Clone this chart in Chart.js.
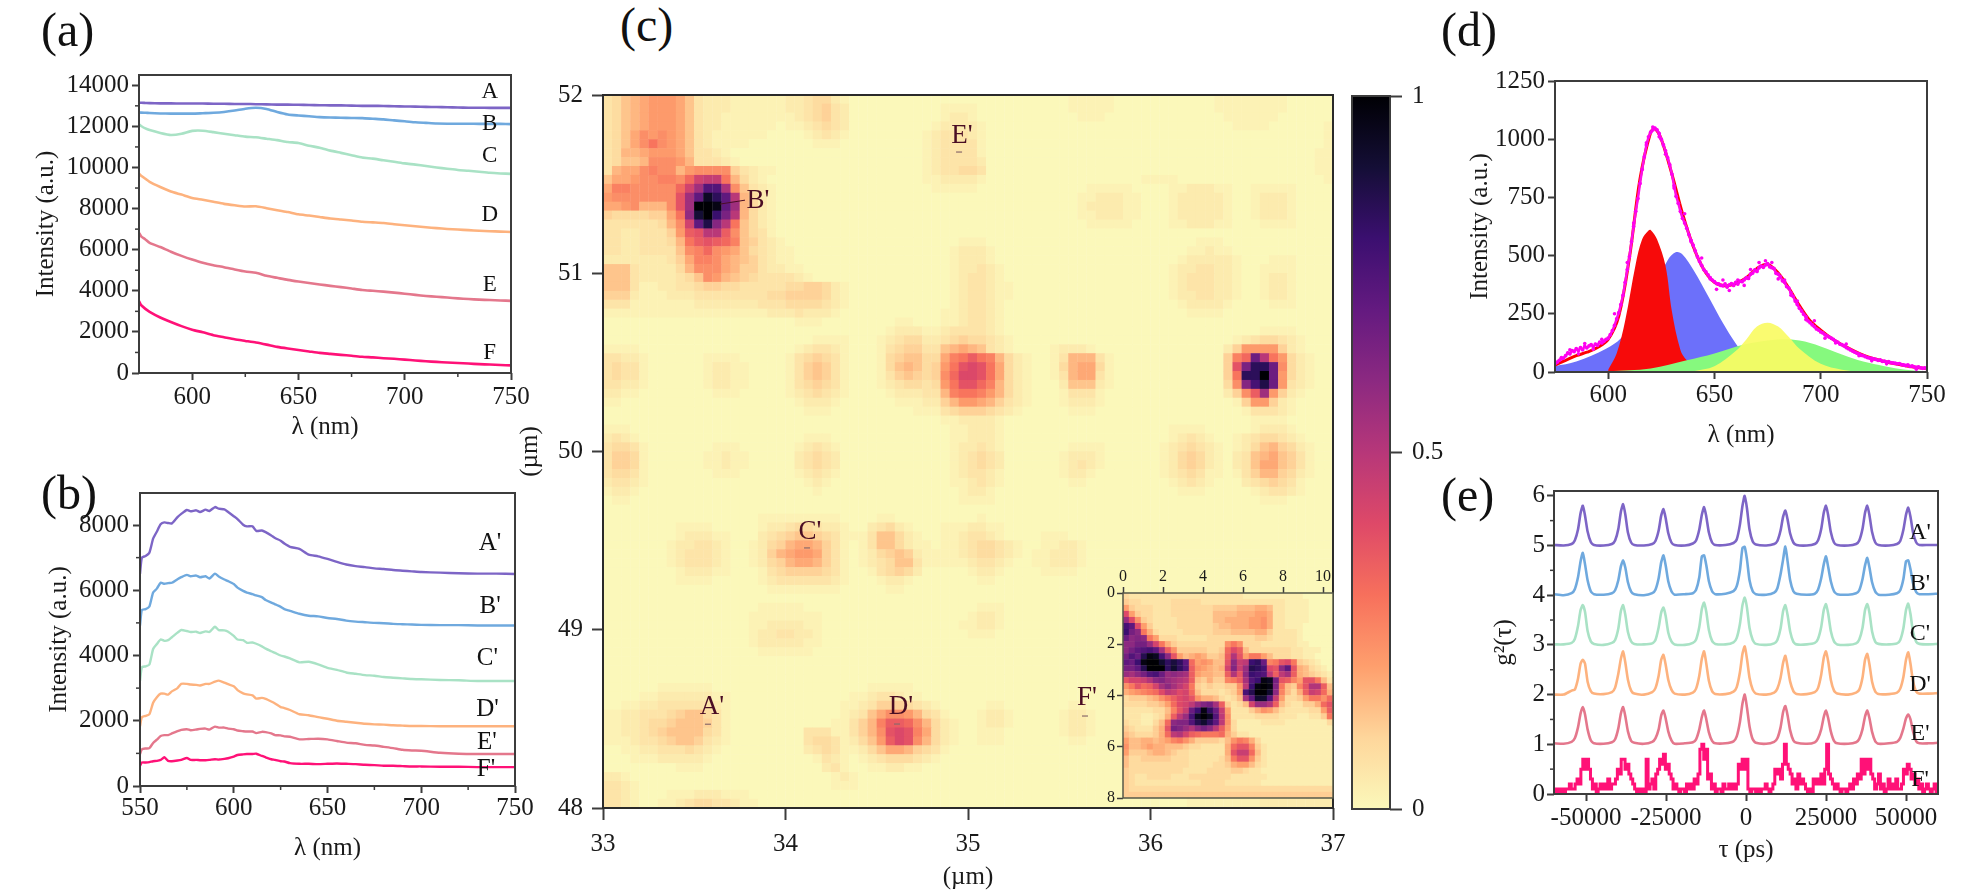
<!DOCTYPE html>
<html>
<head>
  <title>Spectra, PL map and g2</title>
  <script src="https://cdn.jsdelivr.net/npm/chart.js"></script>
  <style>
    html, body { margin: 0; background: #fff; width: 1986px; height: 896px; overflow: hidden; }
    canvas { position: absolute; filter: blur(0.5px); }
    .letter { position: absolute; font: 48px "Liberation Serif", serif; color: #111; line-height: 1; z-index: 5; }
  </style>
</head>
<body>
  <div class="letter" style="left:41px;top:6px">(a)</div>
  <div class="letter" style="left:41px;top:469px">(b)</div>
  <div class="letter" style="left:620px;top:1px">(c)</div>
  <div class="letter" style="left:1441px;top:6px">(d)</div>
  <div class="letter" style="left:1441px;top:471px">(e)</div>

  <canvas id="panelA"></canvas>
  <canvas id="panelB"></canvas>
  <canvas id="panelC"></canvas>
  <canvas id="inset" style="z-index:2"></canvas>
  <canvas id="colorbar"></canvas>
  <canvas id="panelD"></canvas>
  <canvas id="panelE"></canvas>

  <script>
    // panel (a)
    var aLambda = [575,576,578,580,585,590,595,600,605,610,615,620,625,630,635,640,645,650,655,660,665,670,675,680,685,690,695,700,705,710,715,720,725,730,735,740,745,750];
    var aA = [13150,13150,13140,13130,13120,13120,13110,13110,13110,13100,13100,13090,13090,13080,13070,13060,13060,13050,13040,13030,13020,13020,13010,13000,13000,12990,12980,12970,12960,12950,12940,12930,12920,12910,12910,12900,12900,12900];
    var aB = [12680,12670,12660,12650,12630,12620,12620,12620,12640,12660,12700,12770,12860,12910,12850,12700,12580,12530,12490,12450,12430,12420,12410,12400,12370,12340,12290,12250,12200,12170,12140,12130,12130,12130,12120,12120,12120,12110];
    var aC = [12100,12020,11900,11820,11680,11580,11640,11780,11790,11720,11640,11570,11500,11470,11400,11330,11240,11190,11060,10960,10820,10710,10600,10490,10430,10350,10280,10200,10140,10070,10000,9940,9880,9840,9790,9740,9710,9690];
    var aD = [9700,9600,9450,9300,9050,8830,8680,8520,8430,8330,8230,8160,8100,8110,8020,7920,7830,7720,7660,7590,7520,7470,7420,7360,7330,7300,7240,7190,7140,7090,7050,7010,6980,6950,6920,6900,6880,6860];
    var aE = [6820,6650,6500,6330,6130,5900,5700,5520,5360,5240,5150,5040,4940,4880,4730,4630,4530,4450,4380,4310,4240,4180,4110,4040,4000,3960,3910,3860,3800,3750,3710,3670,3630,3600,3570,3550,3530,3510];
    var aF = [3500,3300,3120,2980,2700,2480,2280,2110,1980,1840,1740,1640,1560,1480,1380,1270,1190,1120,1050,980,930,880,840,790,760,720,690,650,610,570,540,510,490,460,430,410,390,370];
    var aNames = ["A","B","C","D","E","F"];
    var aNameX = [740,740,740,740,740,740];
    var aNameY = [13674,12117,10560,7689,4282,973];
    var aTicksX = [600,650,700,750];
    var aMinorX = [625,675,725];
    var aTicksY = [0,2000,4000,6000,8000,10000,12000,14000];
    var aMinorY = [1000,3000,5000,7000,9000,11000,13000];

    // panel (b)
    var bLambda = [550,551,553,555,557,559,561,563,565,567,570,572,575,577,580,582,585,587,590,592,595,597,600,602,605,607,610,612,615,617,620,622,625,627,630,635,640,645,650,655,660,665,670,675,680,685,690,695,700,710,720,730,740,750];
    var bA = [6500,7000,7050,7150,7580,7800,8020,8080,8060,8050,8240,8340,8460,8420,8450,8400,8470,8430,8550,8500,8480,8400,8270,8180,8010,7960,7960,7820,7830,7780,7680,7600,7520,7430,7330,7270,7090,7040,6960,6870,6790,6740,6710,6670,6650,6620,6600,6580,6560,6540,6520,6510,6510,6500];
    var bB = [4920,5400,5420,5500,5930,6050,6230,6200,6220,6230,6340,6400,6470,6430,6450,6400,6430,6360,6510,6420,6330,6280,6190,6080,5980,5930,5880,5840,5790,5700,5620,5570,5490,5420,5370,5280,5220,5200,5150,5120,5070,5040,5020,5000,4990,4970,4960,4950,4940,4930,4930,4920,4920,4920];
    var bC = [3220,3640,3670,3720,4200,4350,4490,4450,4470,4560,4700,4780,4750,4720,4730,4690,4740,4720,4880,4780,4770,4730,4600,4490,4470,4390,4400,4360,4280,4210,4130,4080,4000,3970,3910,3790,3810,3730,3620,3560,3480,3440,3400,3380,3340,3320,3300,3280,3270,3250,3240,3220,3220,3220];
    var bD = [1830,2110,2150,2200,2550,2720,2830,2830,2800,2900,3000,3130,3130,3110,3100,3080,3130,3130,3200,3230,3170,3120,3060,2940,2840,2810,2780,2680,2700,2670,2590,2530,2420,2390,2330,2200,2170,2110,2060,2000,1970,1940,1910,1890,1880,1860,1850,1840,1840,1830,1830,1830,1830,1830];
    var bE = [980,1120,1150,1160,1320,1420,1530,1560,1560,1610,1680,1720,1740,1710,1730,1750,1760,1730,1820,1790,1790,1760,1740,1700,1680,1670,1670,1620,1660,1650,1610,1560,1550,1520,1510,1430,1440,1450,1430,1380,1330,1310,1260,1240,1200,1160,1110,1090,1080,1020,990,980,980,980];
    var bF = [620,720,720,730,760,770,800,880,770,760,780,800,860,800,800,790,790,800,820,810,830,850,900,950,970,980,980,990,920,880,820,800,760,750,700,680,680,670,680,690,680,670,650,640,620,620,610,600,600,590,590,580,580,580];
    var bNames = ["A'","B'","C'","D'","E'","F'"];
    var bNameX = [736.7,736.7,735.3,735.3,735,734.5];
    var bNameY = [7445,5494,3917,2353,1320,512];
    var bTicksX = [550,600,650,700,750];
    var bMinorX = [575,625,675,725];
    var bTicksY = [0,2000,4000,6000,8000];
    var bMinorY = [1000,3000,5000,7000];

    // panel (c): each character is one cell, base 36, 0 lowest and z highest
    var mapRows = [
      "3467899986 3222111111 2234421000 0000000000 0000000000 0111110000 0000000111 1111100000",
      "3467899986 3222111111 2234532000 0000000111 1000000000 0111110000 0000000111 1111100000",
      "3467899986 3221111111 1234532000 0000000122 1000000000 0011100000 0000000011 1111000000",
      "3467899986 3221111110 1123432000 0000001222 2100000000 0000000000 0000000001 1110000001",
      "3468a9a986 3211111100 0012321000 0000012333 2100000000 0000000000 0000000000 0000000001",
      "3468aca986 3211110000 0001110000 0000012333 3100000000 0000000000 0000000000 0000000001",
      "3477899986 3321000000 0000000000 0000012333 3100000000 0000000000 0000000000 0000000011",
      "34667aaa97 3332100000 0000000000 0000012333 3200000000 0000000000 0000000000 0000000011",
      "3788abaa79 aaaa532110 0000000000 0000012334 4300000000 0000000000 0000000000 0000000011",
      "6889aabbad hiic742100 0000000000 0000011222 2100000000 0000000001 1110000000 0000000001",
      "8bbaaaaadh lrrka63210 0000000000 0000001111 1000000000 0001111100 0011222110 0111110000",
      "9aaaaaaafl qxuqj74210 0000000000 0000000000 0000000000 0011222110 0012222210 0122210000",
      "889a777afl zzyql74210 0000000000 0000000000 0000000000 0012222110 0012222210 0122210000",
      "54444558cm wztoj74210 0000000000 0000000000 0000000000 0011222110 0012222210 0122210000",
      "33333347ah qvnjc64210 0000000000 0000000000 0000000000 0001111100 0011222110 0011110000",
      "332233359e fjjea64310",
      "332233347c efedb65321 0000000000 0000000001 1100000000 0000000000 0000011100 0000000000",
      "332233336a bda9864321 1000000000 0000000012 2210000000 0000000000 0000112110 0000000000",
      "2222222358 bba8765321 1000000000 0000000012 2210000000 0000000000 0001222221 0001110000",
      "6663222247 aaa8755322 1100000000 0000000012 2321000000 0000000000 0012233221 0011110000",
      "6663222234 6a97654333 3210000000 0000000012 3321000000 0000000000 0012333221 0012210000",
      "6663112233 4554433333 4455421000 0000000012 3321100000 0000000000 0012333221 0012210000",
      "5552111222 3333333344 5555421000 0000000012 3321100000 0000000000 0012233221 0012210000",
      "3331111111 2222222333 4444321000 0000000012 3321000000 0000000000 0001222210 0001110000",
      "1111111111 1111111122 2322210000 0000000112 3321000000 0000000000 0000111100 0000000000",
      "0000000000 0000000000 0111000000 0011000112 3321000000",
      "0000000000 0000000000 0000000000 0122211233 3321000000 0000000000 0000000000 0011110000",
      "0000000000 0000000000 0001111000 1234422345 4432100000 0000000000 0000000001 2344321000",
      "1111000000 0000000000 0123321000 1345533678 7632100001 2221000000 0000000025 9999521000",
      "3322100000 0111100000 1345431000 14566448bc ecb7421001 3777310000 000000005b dpjc942100",
      "3433100000 0122110000 1356531000 14676459cf gfc8421001 4788410000 000000005f ouupa42100",
      "3433100000 0122110000 1356531000 1356545adg gfc8421001 3788310000 000000005c uuzp942100",
      "3322100000 0122110000 1345431000 12344349cf fdb7421000 2666210000 000000004a nsvp932100",
      "2211000000 0011100000 1234321000 01222337bc cb97421000 1333100000 0000000025 ael9521000",
      "1100000000 0000000000 0122210000 0011122579 9875321000 1222100000 0000000001 5995210000",
      "0000000000 0000000000 0011100000 0000111345 5543210000 0111000000 0000000000 1333210000",
      "0000000000 0000000000 0000000000 0000000112 2221000000 0000000000 0000000000 0111100000",
      "1110000000 0000000000 0000000000 0000000011 2221000000 0000000000 0011110000 0122210000",
      "2321000000 0000000000 0011100000 0000000011 2221000000 0000000000 0012321001 2344321000",
      "3443100000 0011100000 0123210000 0000000012 2321000000 0111100000 0123432101 2467542100",
      "3554100000 0112110000 0234320000 0000000012 3432000000 1222100000 0124542102 3678653100",
      "3554100000 0112110000 0234320000 0000000012 3432000000 1232100000 0124542102 3688653100",
      "3443100000 0011100000 0123210000 0000000012 3321000000 1221000000 0123431101 3577542100",
      "2332100000 0000000000 0012100000 0000000011 2321000000 0110000000 0012321000 2345431000",
      "1221000000 0000000000 0001000000 0000000001 2210000000 0000000000 0001110000 0123321000",
      "0110000000 0000000000 0000000000 0000000001 1110000000 0000000000 0000000000 0011100000",
      "",
      "0000000000 0000000111 1111110000 1100000000 0100000000",
      "0000000011 1100000122 3443221002 3421000111 2211000000",
      "0000000012 2211000234 5665431113 6642100112 3321000011 1000000000",
      "0000000122 3321001245 7887531013 6642110112 3443210011 2210000000",
      "0000000123 3321001257 8998531012 4565211112 3443210112 2210000000",
      "0000000123 3321001245 7887531012 3466311111 2332100112 2210000000",
      "0000000012 2211000134 5555431001 3454200000 1221000011 1100000000",
      "0000000011 1100000123 3333321000 1221000000 0110000000",
      "0000000000 0000000011 1111110000 0110000000",
      "",
      "0000000000 0000000111 1100000000 0000000000 0111000000",
      "0000000000 0000001111 1111000000 0000000000 1221000000",
      "0000000000 0000001122 2211000000 0000000001 1221000000",
      "0000000000 0000001223 3221000000 0000000000 1110000000",
      "0000000000 0000001222 2211000000",
      "0000000000 0000000111 1110000000",
      "",
      "",
      "",
      "0000001111 1100000000 0000000001 1111000000",
      "0000112222 2211000000 0000000112 3321100000",
      "0011223333 3321000000 0000001123 5554321000 0011000000 0110000000",
      "1122333456 6431000000 0000001236 8aa9743100 0122100000 1221000000",
      "1122344566 6531000000 0000011357 beeda74210 0122100000 1221000000",
      "1122345666 6431000000 0033311357 afgfb84210 0111000000 1221000000",
      "1112334566 5321000000 0034431246 9egfa74210 0111000000 0110000000",
      "0011223334 3210000000 0023431124 6887543100",
      "0001112222 2100000000 0001321012 3444321000",
      "0000000011 1000000000 0000231001 1221100000",
      "2210000000 0000000000 0000012100",
      "3321000000 0000000000 0000011100 0000000000 0000000000 0000000000 0000011111 1111111111",
      "3321000111 2221110000 0000000000 0000000000 0000000000 0000000000 0000111111 1111111222",
      "3321001123 4433211000 0000000000 0000000000 0000000000 0000000000 0000111111 1122222222"
    ];
    var mapTicksX = [33,34,35,36,37];
    var mapTicksY = [48,49,50,51,52];
    var spotNames = ["A'","B'","C'","D'","E'","F'"];
    var spotNameX = [33.597,33.849,34.134,34.633,34.967,35.652];
    var spotNameY = [48.567,51.405,49.548,48.567,51.77,48.617];
    var spotDashX = [33.575,34.118,34.611,34.951,35.641];
    var spotDashY = [48.47,49.459,48.471,51.68,48.516];
    var leaderX = [33.641,33.778];
    var leaderY = [51.388,51.41];

    // inset of (c)
    var insetRows = [
      "3222222222 2222222222 1111111111 00000",
      "4332222233 3332222222 2222222111 10000",
      "7433322233 3333344445 5566522111 10000",
      "e743322233 3333355556 6677622111 10000",
      "ke84322223 3333355666 6778622111 10000",
      "rpe7422223 3333345566 6778622111 00000",
      "snla632222 3333344455 5566422221 00000",
      "olmla73332 2222333333 3344322221 00000",
      "llnnkfa643 33333338a8 3332222221 10000",
      "lnpqrpjc84 4444334bec 5333333322 11100",
      "nqouyxrld7 5676445cid 7aa7533322 11000",
      "posyzzwtvt pb78755dlg hsto9adea4 32100",
      "nnpuzzztwt qc87656fmg kutredlpd6 53210",
      "kjlnqroklk jc76655cid lsrqhchjc6 54321",
      "dffgilmkji hc546449ac jqsyxndc97 dda52",
      "8adbcfjljh fa43433448 hsyzyma549 diic5",
      "6789abehge fb53332347 ruzzwl9536 cgfb6",
      "3444568ace fd86653235 jpwwqg7334 7aa8b",
      "33334457be fhkmnjc423 5fkkic5322 446bd",
      "222223359d gosytog722 2468753222 2337c",
      "22211236ch krxzxqh822 2233332221 1224a",
      "3221135blm mquwtph831 1112222111 11113",
      "4322246dnm kilnlhc731 1111111111 11111",
      "5433346bhi fcbaaab642 2111111111 11111",
      "755665679a 864444358a 9631111111 11111",
      "8556766555 43322226bd d942111111 11111",
      "7444566543 32222226dg gb52111111 11111",
      "5334444433 32222235ad d842111111 11111",
      "5333333333 3222233467 7532111111 11111",
      "4333333333 2222333344 3221111111 11111",
      "4322333322 2333333322 2222111111 11111",
      "4322222222 2223333222 2221111111 11111",
      "4333333333 3333333333 3333333333 33333",
      "4444444444 4444444444 4444444444 44444"
    ];
    var insetTicksX = [0,2,4,6,8,10];
    var insetTicksY = [0,2,4,6,8];

    // colour scale, low value to high
    var scaleStops = [0,0.1,0.2,0.3,0.4,0.5,0.6,0.7,0.8,0.9,1];
    var scaleColors = ["#fbf8ba","#fed69b","#fe9f6d","#f7705c","#de4968","#b73779","#8c2981","#641a80","#3b0f70","#140e36","#000004"];
    var barTicks = [0,0.5,1];

    // panel (d)
    var dData = [35,42,50,58,60,70,82,78,92,88,
      100,92,105,96,110,104,112,118,108,120,
      115,128,125,132,140,145,160,178,200,228,
      255,290,330,385,440,495,560,625,690,745,
      810,870,925,975,1010,1030,1040,1048,1040,1025,
      1000,975,950,920,890,850,800,755,725,690,
      660,640,617,590,565,545,520,495,475,458,
      440,430,417,405,395,388,380,378,372,370,
      378,365,374,380,372,385,378,390,388,396,
      405,402,420,425,439,432,448,455,450,460,
      465,452,448,445,424,420,410,392,385,367,
      360,340,325,305,290,274,262,248,238,220,
      212,203,195,185,180,172,168,160,155,150,
      145,140,132,128,120,117,112,105,100,95,
      90,85,81,78,72,70,66,62,60,58,
      56,54,50,52,46,47,42,44,40,39,
      38,35,36,32,30,28,30,24,26,22,
      20,22,18,16,18,14];
    var dStrayX = [578,582,586,589,593,597,603,609,612,618,621,624,627,631,636,639,644,648,651,654,657,661,664,667,671,674,677,680,683,686,689,693,697,702,707,712,718,724,731,738,745];
    var dStrayY = [62,95,78,122,98,140,250,470,640,985,1052,1010,935,790,680,560,490,400,355,395,350,395,372,440,470,478,470,400,395,330,305,225,220,145,125,120,70,48,35,32,12];
    var dFitX = [575,580,585,590,595,600,605,610,615,620,622,625,630,635,640,645,650,655,660,665,670,675,680,685,690,695,700,705,710,720,730,740,750];
    var dFitY = [30,50,70,85,105,140,240,490,830,1030,1045,1000,850,680,540,440,385,370,380,405,445,462,425,360,285,220,180,145,117,72,45,27,14];
    var dBlueX = [575,585,599,606,615,628,632,635,640,648,654,658,662,670,680,690];
    var dBlueY = [25,45,100,145,250,480,515,505,440,310,210,150,100,40,10,0];
    var dRedX = [600,604,608,613,616,619,620,623,627,630,634,637,642,650];
    var dRedY = [10,80,220,465,570,608,610,570,455,260,95,50,15,0];
    var dGreenX = [600,620,637,650,665,680,690,700,710,720,730,740,750];
    var dGreenY = [3,15,50,80,120,140,135,110,75,45,25,10,3];
    var dYellowX = [640,650,660,665,670,675,680,685,690,700,710,720];
    var dYellowY = [3,25,90,140,195,212,195,150,100,35,10,0];
    var dTicksX = [600,650,700,750];
    var dTicksY = [0,250,500,750,1000,1250];

    // panel (e)
    var eTau = [-60000,-57000,-54500,-53500,-52500,-51700,-51000,-50300,-49500,-48500,-47500,
      -44500,-41900,-40900,-39900,-39100,-38400,-37700,-36900,-35900,-34900,
      -31900,-29300,-28300,-27300,-26500,-25800,-25100,-24300,-23300,-22300,
      -19100,-16600,-15600,-14600,-13800,-13100,-12400,-11600,-10600,-9600,
      -6400,-3900,-2900,-1900,-1100,-400,300,1100,2100,3100,
      6300,8800,9800,10800,11600,12300,13000,13800,14800,15800,
      19000,21500,22500,23500,24300,25000,25700,26500,27500,28500,
      31900,34400,35400,36400,37200,37900,38600,39400,40400,41400,
      44700,47200,48200,49200,50000,50700,51400,52200,53200,54200,
      57000,60000];
    var eA = [5.01,5.0,5.03,5.1,5.32,5.65,5.8,5.6,5.28,5.07,5.01,
      5.0,5.03,5.1,5.33,5.68,5.83,5.62,5.26,5.06,5.01,
      5.0,5.03,5.09,5.3,5.6,5.73,5.55,5.25,5.06,5.01,
      5.0,5.04,5.1,5.32,5.62,5.77,5.58,5.26,5.06,5.01,
      5.01,5.05,5.12,5.42,5.8,6.0,5.75,5.32,5.08,5.02,
      5.0,5.03,5.09,5.3,5.58,5.7,5.52,5.24,5.06,5.01,
      5.0,5.03,5.1,5.33,5.66,5.8,5.6,5.27,5.06,5.01,
      5.0,5.03,5.1,5.33,5.66,5.8,5.6,5.27,5.06,5.01,
      5.0,5.03,5.09,5.32,5.62,5.76,5.58,5.26,5.06,5.01,
      5.01,5.01];
    var eB = [4.02,4.0,4.04,4.12,4.36,4.68,4.85,4.62,4.3,4.08,4.02,
      4.01,4.04,4.1,4.3,4.58,4.7,4.55,4.26,4.07,4.02,
      4.0,4.04,4.11,4.34,4.66,4.8,4.6,4.28,4.08,4.01,
      4.02,4.04,4.11,4.36,4.78,4.8,4.6,4.28,4.08,4.02,
      4.03,4.08,4.18,4.5,4.95,4.97,4.72,4.3,4.08,4.02,
      4.01,4.05,4.14,4.42,4.72,4.98,4.68,4.3,4.08,4.03,
      4.01,4.03,4.11,4.34,4.62,4.78,4.56,4.28,4.08,4.02,
      4.01,4.04,4.1,4.32,4.6,4.75,4.55,4.26,4.07,4.01,
      4.01,4.04,4.1,4.33,4.68,4.7,4.52,4.24,4.06,4.02,
      4.02,4.03];
    var eC = [3.01,3.01,3.04,3.12,3.38,3.7,3.8,3.66,3.28,3.07,3.02,
      3.0,3.04,3.1,3.33,3.68,3.8,3.6,3.26,3.07,3.02,
      3.01,3.03,3.1,3.35,3.65,3.75,3.58,3.25,3.07,3.01,
      3.0,3.04,3.11,3.36,3.72,3.85,3.66,3.3,3.08,3.02,
      3.01,3.05,3.14,3.42,3.8,3.95,3.75,3.34,3.1,3.02,
      3.0,3.03,3.1,3.33,3.68,3.8,3.6,3.27,3.06,3.01,
      3.01,3.04,3.12,3.36,3.7,3.82,3.62,3.28,3.07,3.01,
      3.0,3.03,3.11,3.34,3.7,3.82,3.64,3.27,3.06,3.02,
      3.01,3.03,3.1,3.34,3.7,3.83,3.62,3.26,3.06,3.02,
      3.01,3.02];
    var eD = [2.0,2.0,2.08,2.1,2.32,2.62,2.7,2.62,2.26,2.07,2.02,
      2.01,2.05,2.14,2.42,2.72,2.87,2.64,2.3,2.08,2.02,
      2.0,2.05,2.13,2.38,2.7,2.8,2.6,2.3,2.1,2.02,
      2.0,2.04,2.12,2.38,2.72,2.87,2.62,2.28,2.07,2.01,
      2.01,2.06,2.15,2.45,2.82,2.97,2.72,2.34,2.1,2.02,
      2.0,2.04,2.12,2.34,2.64,2.78,2.56,2.26,2.07,2.01,
      2.01,2.05,2.13,2.4,2.74,2.87,2.66,2.3,2.08,2.02,
      2.0,2.04,2.1,2.34,2.7,2.82,2.6,2.26,2.06,2.01,
      2.01,2.04,2.12,2.36,2.7,2.85,2.62,2.27,2.06,2.02,
      2.02,2.03];
    var eE = [1.02,1.01,1.05,1.12,1.34,1.62,1.75,1.6,1.3,1.08,1.02,
      1.01,1.04,1.1,1.32,1.62,1.75,1.56,1.26,1.07,1.03,
      1.01,1.05,1.12,1.3,1.58,1.68,1.52,1.26,1.08,1.01,
      1.02,1.04,1.1,1.3,1.55,1.68,1.5,1.24,1.07,1.02,
      1.02,1.06,1.16,1.45,1.82,2.0,1.74,1.36,1.1,1.03,
      1.01,1.05,1.12,1.34,1.65,1.77,1.58,1.28,1.08,1.03,
      1.01,1.04,1.12,1.3,1.55,1.68,1.52,1.26,1.07,1.02,
      1.01,1.04,1.11,1.3,1.56,1.68,1.52,1.25,1.06,1.01,
      1.02,1.05,1.13,1.32,1.52,1.6,1.5,1.26,1.06,1.02,
      1.02,1.03];
    var eFTenths = [1,0,1,0,1,0,1,1,2,1,
      1,2,3,2,5,7,5,7,5,3,
      1,2,0,1,2,1,2,1,3,1,
      2,2,3,5,4,7,7,5,6,4,
      3,2,1,0,1,0,1,0,7,1,
      2,3,1,4,5,7,6,8,5,6,
      4,3,1,2,1,0,1,1,0,2,
      1,2,1,3,2,4,9,10,7,9,
      3,4,1,2,0,1,1,0,2,1,
      1,2,1,2,1,2,6,5,7,5,
      7,1,0,1,1,0,1,0,1,1,
      2,1,0,1,2,5,4,5,3,6,
      10,6,5,4,2,3,1,4,2,3,
      2,1,0,1,0,3,2,3,2,4,
      2,5,10,4,3,2,1,2,1,0,
      1,1,0,1,2,1,3,2,4,3,
      7,4,7,5,7,4,3,1,2,4,
      1,2,0,1,3,1,2,1,3,1,
      1,2,5,4,6,5,3,4,2,3,
      1,2,0,1,2,1,0,1,2,0,1];
    var eNames = ["A'","B'","C'","D'","E'","F'"];
    var eNameX = [54375,54375,54375,54375,54375,54375];
    var eNameY = [5.25,4.24,3.23,2.2,1.22,0.28];
    var eTicksX = [-50000,-25000,0,25000,50000];
    var eTicksY = [0,1,2,3,4,5,6];
    var eMinorY = [0.5,1.5,2.5,3.5,4.5,5.5];

    var curveColors = ["#7d65c6","#6fa9de","#a9e2c5","#fdb27e","#e4778c","#ff1177"];
    var SERIF = "'Liberation Serif', serif";

    function zip(xs, ys) {
      return xs.map(function (x, i) { return { x: x, y: ys[i] }; });
    }

    function hexToRgb(h) {
      return [parseInt(h.slice(1, 3), 16), parseInt(h.slice(3, 5), 16), parseInt(h.slice(5, 7), 16)];
    }

    function colorFor(v) {
      var i = 0;
      while (i < scaleStops.length - 2 && v > scaleStops[i + 1]) i++;
      var f = (v - scaleStops[i]) / (scaleStops[i + 1] - scaleStops[i]);
      var a = hexToRgb(scaleColors[i]), b = hexToRgb(scaleColors[i + 1]);
      return "rgb(" + a.map(function (c, k) { return Math.round(c + (b[k] - c) * f); }).join(",") + ")";
    }

    // turn the typed rows into scatter points centred in their cells
    function cells(rows, nx, xMin, xMax, yAt, power) {
      var pts = [], colors = [];
      rows.forEach(function (row, r) {
        var s = row.replace(/ /g, "");
        for (var c = 0; c < nx; c++) {
          var v = c < s.length ? Math.pow(parseInt(s[c], 36) / 35, power) : 0;
          pts.push({ x: xMin + (c + 0.5) * (xMax - xMin) / nx, y: yAt(r + 0.5) });
          colors.push(colorFor(v));
        }
      });
      return { pts: pts, colors: colors };
    }

    // frame, minor ticks and curve labels
    function marks(o) {
      return {
        id: "marks",
        afterDatasetsDraw: function (chart) {
          var ctx = chart.ctx, a = chart.chartArea, sx = chart.scales.x, sy = chart.scales.y;
          ctx.save();
          ctx.strokeStyle = o.frame || "#3c3c3c";
          ctx.lineWidth = o.frameWidth || 2;
          ctx.strokeRect(a.left, a.top, a.right - a.left, a.bottom - a.top);
          ctx.lineWidth = 1.5;
          (o.minorX || []).forEach(function (v) {
            var p = sx.getPixelForValue(v);
            ctx.beginPath(); ctx.moveTo(p, a.bottom); ctx.lineTo(p, a.bottom + 4); ctx.stroke();
          });
          (o.minorY || []).forEach(function (v) {
            var p = sy.getPixelForValue(v);
            ctx.beginPath(); ctx.moveTo(a.left, p); ctx.lineTo(a.left - 4, p); ctx.stroke();
          });
          if (o.names) {
            ctx.font = o.nameSize + "px " + SERIF;
            ctx.fillStyle = o.nameColor || "#111";
            ctx.textAlign = "center";
            ctx.textBaseline = "middle";
            o.names.forEach(function (t, i) {
              ctx.fillText(t, sx.getPixelForValue(o.nameX[i]), sy.getPixelForValue(o.nameY[i]));
            });
          }
          ctx.restore();
        }
      };
    }

    function axis(o) {
      var a = {
        type: "linear",
        min: o.min,
        max: o.max,
        reverse: !!o.reverse,
        position: o.position,
        afterBuildTicks: function (s) { s.ticks = o.ticks.map(function (v) { return { value: v }; }); },
        afterFit: function (s) {
          if (s.isHorizontal()) s.height = o.fit; else s.width = o.fit;
        },
        border: { display: false },
        grid: { drawOnChartArea: false, drawTicks: true, tickLength: o.tick || 7, tickWidth: o.tickWidth || 2, tickColor: "#3c3c3c" },
        ticks: {
          autoSkip: false, maxRotation: 0, padding: o.pad,
          color: "#1a1a1a", font: { family: SERIF, size: o.size || 25 },
          callback: function (v) { return String(v); }
        }
      };
      if (o.title) {
        a.title = { display: true, text: o.title, color: "#1a1a1a", font: { family: SERIF, size: o.titleSize || 25 }, padding: 0 };
      }
      return a;
    }

    // box and plot are [left, top, right, bottom] in page pixels
    function panel(id, box, plot, datasets, scales, extra) {
      var el = document.getElementById(id);
      el.width = box[2] - box[0];
      el.height = box[3] - box[1];
      el.style.left = box[0] + "px";
      el.style.top = box[1] + "px";
      return new Chart(el, {
        type: extra.type || "line",
        data: { labels: extra.labels, datasets: datasets },
        options: {
          responsive: false,
          animation: false,
          events: [],
          layout: { padding: extra.padding || { left: 0, top: plot[1] - box[1], right: box[2] - plot[2], bottom: 0 } },
          plugins: { legend: { display: false }, tooltip: { enabled: false } },
          scales: scales
        },
        plugins: [marks(extra.marks)]
      });
    }

    function curve(xs, ys, color, width) {
      return { data: zip(xs, ys), borderColor: color, borderWidth: width || 2.6, pointRadius: 0, tension: 0.2, fill: false };
    }

    // (a)
    panel("panelA", [31, 50, 535, 442], [139, 75, 511, 373],
      [aA, aB, aC, aD, aE, aF].map(function (s, i) { return curve(aLambda, s, curveColors[i]); }),
      {
        x: axis({ min: 575, max: 750, ticks: aTicksX, fit: 69, pad: 2, title: "λ (nm)" }),
        y: axis({ min: 0, max: 14500, ticks: aTicksY, fit: 108, pad: 3, title: "Intensity (a.u.)" })
      },
      { marks: { minorX: aMinorX, minorY: aMinorY, names: aNames, nameX: aNameX, nameY: aNameY, nameSize: 23 } });

    // (b)
    panel("panelB", [44, 460, 540, 863], [140, 493, 515, 786],
      [bA, bB, bC, bD, bE, bF].map(function (s, i) { return curve(bLambda, s, curveColors[i], 2.4); }),
      {
        x: axis({ min: 550, max: 750, ticks: bTicksX, fit: 77, pad: 0, title: "λ (nm)" }),
        y: axis({ min: 0, max: 8981, ticks: bTicksY, fit: 96, pad: 4, title: "Intensity (a.u.)" })
      },
      { marks: { minorX: bMinorX, minorY: bMinorY, names: bNames, nameX: bNameX, nameY: bNameY, nameSize: 25 } });

    // (c)
    var mapCells = cells(mapRows, 80, 33, 37, function (r) { return 52 - r * 4 / 80; }, 1.15);
    panel("panelC", [515, 60, 1370, 892], [603, 95, 1333, 808],
      [
        { type: "scatter", data: zip(spotDashX, spotDashY), pointStyle: "line", pointRadius: 3, pointBorderColor: "#8a6a6a", pointBorderWidth: 1.2 },
        { data: zip(leaderX, leaderY), borderColor: "#4a0d24", borderWidth: 1, pointRadius: 0 },
        { type: "scatter", data: mapCells.pts, pointStyle: "rect", pointRadius: 6.7, pointBorderWidth: 0, pointBackgroundColor: mapCells.colors }
      ],
      {
        x: axis({ min: 33, max: 37, ticks: mapTicksX, fit: 84, tick: 12, pad: 9, title: "(µm)" }),
        y: axis({ min: 48, max: 52, ticks: mapTicksY, fit: 88, tick: 11, pad: 9, title: "(µm)" })
      },
      { marks: { names: spotNames, nameX: spotNameX, nameY: spotNameY, nameSize: 27, nameColor: "#4a0d24", frame: "#2a2a2a" } });

    // inset
    var insetCells = cells(insetRows, 35, 0, 10.5, function (r) { return r * 8 / 34; }, 1);
    panel("inset", [1090, 560, 1340, 812], [1123, 593, 1333, 798],
      [{ type: "scatter", data: insetCells.pts, pointStyle: "rect", pointRadius: 4.5, pointBorderWidth: 0, pointBackgroundColor: insetCells.colors }],
      {
        x: axis({ min: 0, max: 10.5, ticks: insetTicksX, fit: 33, tick: 6, tickWidth: 1.5, pad: 1, size: 16, position: "top" }),
        y: axis({ min: 0, max: 8, ticks: insetTicksY, fit: 33, tick: 6, tickWidth: 1.5, pad: 2, size: 16, reverse: true })
      },
      { padding: { left: 0, top: 0, right: 7, bottom: 14 }, marks: { frame: "#55584a", frameWidth: 1.5 } });

    // colour bar
    var barFill = function (ctx) {
      var a = ctx.chart.chartArea;
      if (!a) return "#000";
      var g = ctx.chart.ctx.createLinearGradient(0, a.bottom, 0, a.top);
      scaleStops.forEach(function (s, i) { g.addColorStop(s, scaleColors[i]); });
      return g;
    };
    panel("colorbar", [1340, 60, 1450, 835], [1352, 96, 1390, 809],
      [{ data: [1], backgroundColor: barFill, barPercentage: 1, categoryPercentage: 1 }],
      {
        x: { display: false },
        y: axis({ min: 0, max: 1, ticks: barTicks, fit: 60, tick: 12, pad: 10, position: "right" })
      },
      { type: "bar", labels: [""], padding: { left: 12, top: 36, right: 0, bottom: 26 }, marks: { frame: "#3c3c3c" } });

    // (d)
    var dLambda = dData.map(function (v, i) { return 575 + i; });
    function peak(xs, ys, color) {
      return { data: zip(xs, ys), borderWidth: 0, pointRadius: 0, tension: 0.35, fill: "origin", backgroundColor: color };
    }
    panel("panelD", [1465, 50, 1950, 450], [1555, 81, 1927, 372],
      [
        { type: "scatter", data: zip(dStrayX, dStrayY), pointRadius: 1.8, pointBackgroundColor: "#ff00f0", pointBorderWidth: 0 },
        { data: zip(dLambda, dData), borderColor: "#ff10e8", borderWidth: 2.5, pointRadius: 1.9, pointBackgroundColor: "#ff00f0", pointBorderWidth: 0, tension: 0 },
        { data: zip(dFitX, dFitY), borderColor: "#ff0000", borderWidth: 3, pointRadius: 0, tension: 0.35 },
        peak(dYellowX, dYellowY, "rgba(250,251,100,0.92)"),
        peak(dGreenX, dGreenY, "#86f97e"),
        peak(dRedX, dRedY, "#f70a0a"),
        peak(dBlueX, dBlueY, "#6c70fa")
      ],
      {
        x: axis({ min: 575, max: 750, ticks: dTicksX, fit: 78, pad: 1, title: "λ (nm)" }),
        y: axis({ min: 0, max: 1250, ticks: dTicksY, fit: 90, pad: 3, title: "Intensity (a.u.)" })
      },
      { marks: {} });

    // (e)
    var eFTau = eFTenths.map(function (v, i) { return -60000 + i * 600; });
    var eF = eFTenths.map(function (v) { return v / 10; });
    var eSets = [eA, eB, eC, eD, eE].map(function (s, i) { return curve(eTau, s, curveColors[i], 2.6); });
    eSets.push({ data: zip(eFTau, eF), borderColor: curveColors[5], borderWidth: 3, pointRadius: 0, stepped: true, fill: false });
    panel("panelE", [1489, 460, 1960, 865], [1554, 491, 1938, 794],
      eSets,
      {
        x: axis({ min: -60000, max: 60000, ticks: eTicksX, fit: 71, pad: 2, title: "τ (ps)" }),
        y: axis({ min: 0, max: 6.096, ticks: eTicksY, fit: 65, pad: 2, title: "g²(τ)" })
      },
      { marks: { minorY: eMinorY, names: eNames, nameX: eNameX, nameY: eNameY, nameSize: 24 } });
  </script>
</body>
</html>
